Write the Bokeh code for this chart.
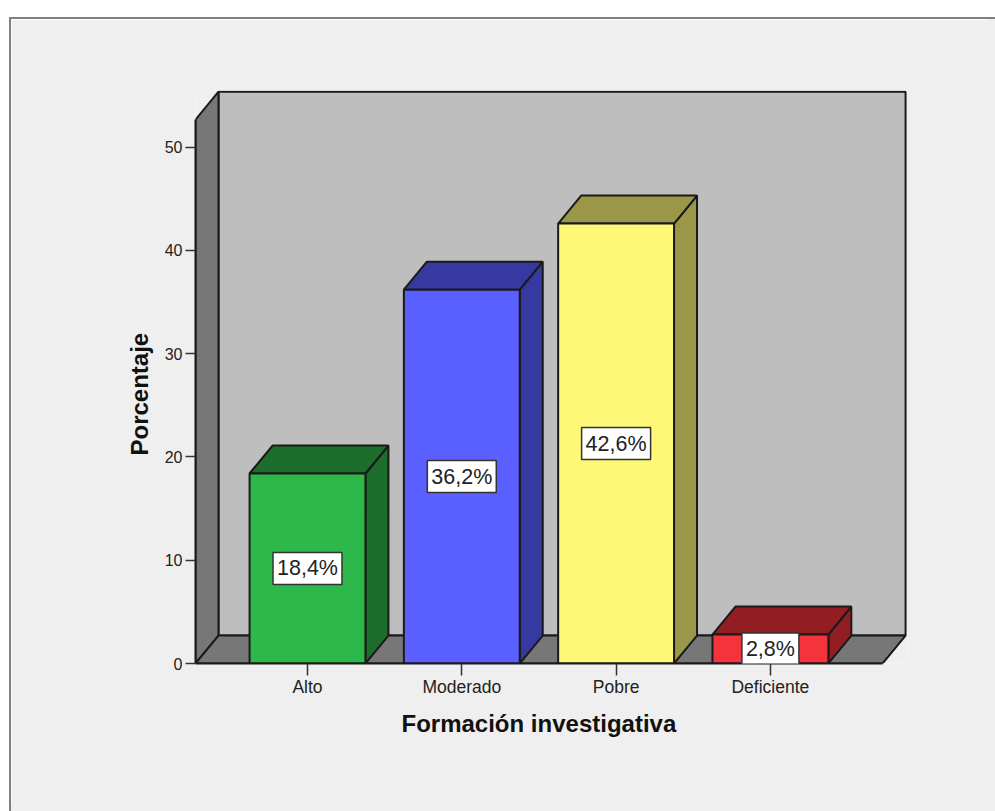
from bokeh.plotting import figure
from bokeh.models import Label, FixedTicker, Title
from bokeh.embed import file_html
from bokeh.resources import INLINE

categories = ["Alto", "Moderado", "Pobre", "Deficiente"]
percent = [18.4, 36.2, 42.6, 2.8]
y_ticks = [0, 10, 20, 30, 40, 50]
x_title = "Formación investigativa"
y_title = "Porcentaje"

front_colors = ["#2eb84b", "#5a60ff", "#fff876", "#f5333b"]
depth_colors = ["#1d6e2d", "#3639a0", "#9a9848", "#921d22"]
INK = "#1a1a1a"
FONT = "Liberation Sans"

# scale-space layout of the pseudo-3D box
X0, X1 = 0.2741, 4.8885
Y0, Y1 = 0.0, 55.49
BAR_W = 0.751
DX, DY = 0.149, 2.71
AX_TOP = 52.66
FLOOR_R = 4.727

p = figure(width=976, height=784, x_range=(X0, X1), y_range=(Y0, Y1),
           output_backend="svg", toolbar_location=None,
           min_border_left=184, min_border_right=80,
           min_border_top=71, min_border_bottom=140,
           border_fill_color="#efefef", background_fill_color="#efefef",
           outline_line_color=None)
p.margin = (19, 0, 0, 11)
p.styles = {"box-shadow": "8px 0 0 #efefef, 0 8px 0 #efefef, 8px 8px 0 #efefef, "
                          "-2px -2px 0 #7f7f7f, 8px -2px 0 #7f7f7f, -2px 8px 0 #7f7f7f"}
p.grid.visible = False

# back wall, side wall, floor
p.patch([X0 + DX, FLOOR_R + DX, FLOOR_R + DX, X0 + DX],
        [DY, DY, AX_TOP + DY, AX_TOP + DY],
        fill_color="#bebebe", line_color=INK, line_width=2)
p.patch([X0, X0 + DX, X0 + DX, X0], [0, DY, AX_TOP + DY, AX_TOP],
        fill_color="#777777", line_color=INK, line_width=2)
p.patch([X0, FLOOR_R, FLOOR_R + DX, X0 + DX], [0, 0, DY, DY],
        fill_color="#777777", line_color=INK, line_width=2)

xs = list(range(1, len(categories) + 1))
left = [x - BAR_W / 2 for x in xs]
right = [x + BAR_W / 2 for x in xs]

p.patches([[r, r + DX, r + DX, r] for r in right],
          [[0, DY, v + DY, v] for v in percent],
          fill_color=depth_colors, line_color=INK, line_width=2)
p.patches([[l, r, r + DX, l + DX] for l, r in zip(left, right)],
          [[v, v, v + DY, v + DY] for v in percent],
          fill_color=depth_colors, line_color=INK, line_width=2)
p.vbar(x=xs, width=BAR_W, top=percent, bottom=0,
       fill_color=front_colors, line_color=INK, line_width=2)

for x, v in zip(xs, percent):
    p.add_layout(Label(x=x, y=v / 2, text=f"{v:.1f}%".replace(".", ","),
                       text_align="center", text_baseline="middle",
                       text_font=FONT, text_font_size="21.5px", text_color="#222222",
                       background_fill_color="#ffffff",
                       border_line_color="#333333", border_line_width=1.5,
                       padding=4))

ax = p.yaxis[0]
ax.ticker = FixedTicker(ticks=y_ticks)
ax.bounds = (0, AX_TOP)
ax.axis_line_color = INK
ax.axis_line_width = 2
ax.major_tick_line_color = "#333333"
ax.major_tick_line_width = 1.5
ax.major_tick_out = 10
ax.major_tick_in = 0
ax.minor_tick_line_color = None
ax.major_label_standoff = 3
ax.major_label_text_font = FONT
ax.major_label_text_font_size = "16px"
ax.major_label_text_color = "#222222"

bx = p.xaxis[0]
bx.ticker = FixedTicker(ticks=xs)
bx.major_label_overrides = dict(zip(xs, categories))
bx.bounds = (X0, FLOOR_R)
bx.axis_line_color = INK
bx.axis_line_width = 2
bx.major_tick_line_color = "#333333"
bx.major_tick_line_width = 1.5
bx.major_tick_out = 12
bx.major_tick_in = 0
bx.minor_tick_line_color = None
bx.major_label_standoff = 1
bx.major_label_text_font = FONT
bx.major_label_text_font_size = "17.5px"
bx.major_label_text_color = "#222222"

p.add_layout(Title(text=x_title, align="left", offset=206, standoff=16,
                   text_font=FONT, text_font_style="bold", text_font_size="24px",
                   text_color="#111111"), "below")
p.add_layout(Title(text=y_title, align="left", offset=208, standoff=18,
                   text_font=FONT, text_font_style="bold", text_font_size="24px",
                   text_color="#111111"), "left")

open("out.html", "w").write(file_html(p, INLINE))
